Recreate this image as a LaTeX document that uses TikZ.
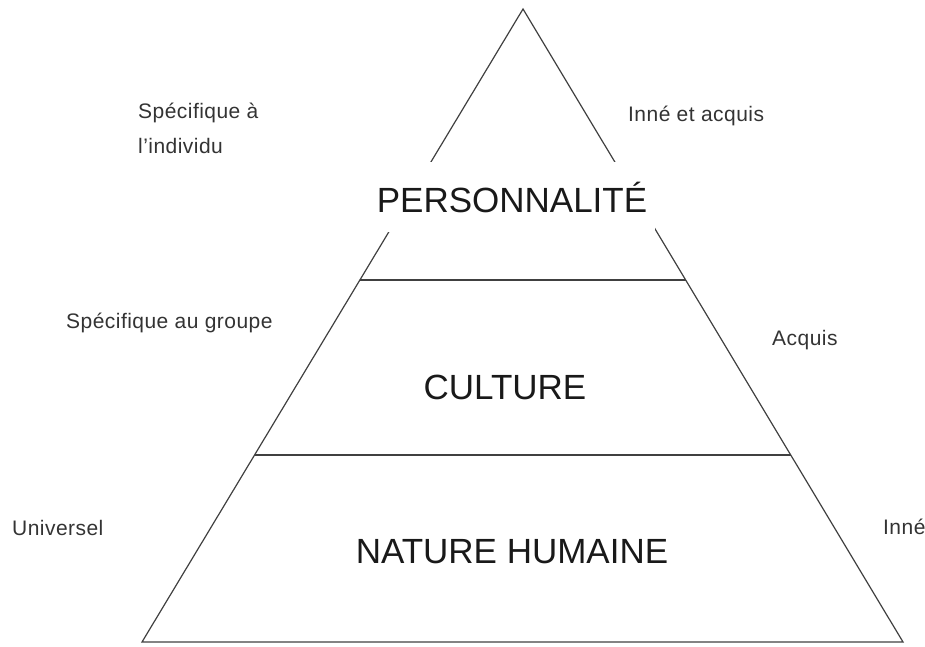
\documentclass[tikz,border=0pt]{standalone}
\usepackage{fontspec}
\setmainfont{Liberation Sans}
\newfontfamily\sidefont[LetterSpace=2.2]{Liberation Sans}
\usetikzlibrary{calc}

\begin{document}
\begin{tikzpicture}[x=1pt, y=-1pt,
  level/.style={font=\fontsize{35}{40}\selectfont, text=black!90},
  side/.style={font=\sidefont\fontsize{21}{25}\selectfont, text=black!80, anchor=base west, inner sep=0pt},
  edge/.style={line width=1.2pt, draw=black!75}]

\useasboundingbox (0,0) rectangle (925,646);

% Pyramid
\coordinate (top) at (523,9);
\coordinate (baseL) at (142,642);
\coordinate (baseR) at (903,642);
\draw[edge] (top) -- (baseL) -- (baseR) -- cycle;

% Level lines
\coordinate (upL) at ($(top)!0.428!(baseL)$);
\coordinate (upR) at ($(top)!0.428!(baseR)$);
\coordinate (lowL) at ($(top)!0.7046!(baseL)$);
\coordinate (lowR) at ($(top)!0.7046!(baseR)$);
\draw[edge] (upL) -- (upR);
\draw[edge] (lowL) -- (lowR);

% Levels
\node[level, fill=white, minimum height=70pt, inner xsep=8pt] (perso) at (512,197) {PERSONNALITÉ};
\node[level] (culture) at (505,387) {CULTURE};
\node[level] (nature) at (512,552) {NATURE HUMAINE};

% Left labels
\node[side] (specInd) at (138,118) {Spécifique à};
\node[side] (indiv) at (138,153) {l’individu};
\node[side] (specGr) at (66,328) {Spécifique au groupe};
\node[side] (univ) at (12,535) {Universel};

% Right labels
\node[side] (innAcq) at (628,121) {Inné et acquis};
\node[side] (acq) at (772,345) {Acquis};
\node[side] (inne) at (883,534) {Inné};

\end{tikzpicture}
\end{document}
